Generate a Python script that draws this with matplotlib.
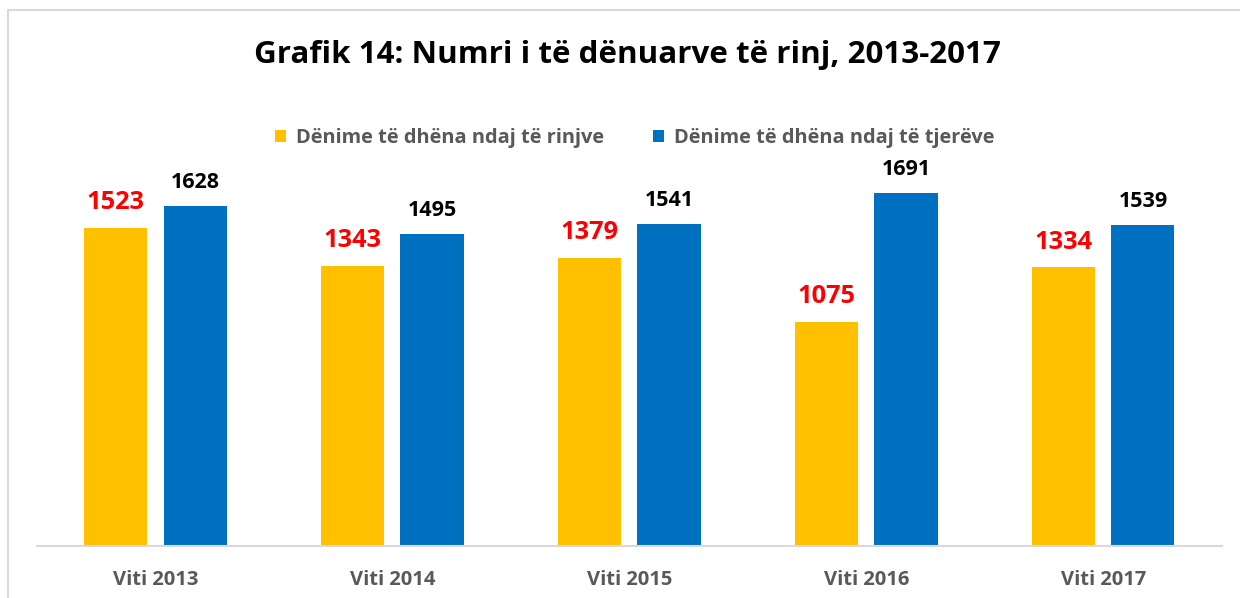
import matplotlib
matplotlib.use("Agg")
import matplotlib.pyplot as plt
import matplotlib.lines as mlines
import numpy as np

# data
years = ["Viti 2013", "Viti 2014", "Viti 2015", "Viti 2016", "Viti 2017"]
youth = [1523, 1343, 1379, 1075, 1334]
others = [1628, 1495, 1541, 1691, 1539]
series_names = ["Dënime të dhëna ndaj të rinjve", "Dënime të dhëna ndaj të tjerëve"]

ORANGE = "#FFC000"
BLUE = "#0070C0"
GREY_TXT = "#595959"

plt.rcParams["font.family"] = ["Open Sans", "DejaVu Sans"]

fig = plt.figure(figsize=(12.4, 5.98), dpi=100)
ax = fig.add_axes([0.0298, 0.08696, 0.9556, 0.6285])

x = np.arange(len(years))
w = 0.266
off = 0.167
ax.bar(x - off, youth, width=w, color=ORANGE, label=series_names[0])
ax.bar(x + off, others, width=w, color=BLUE, label=series_names[1])

for xi, v in zip(x, youth):
    ax.annotate(f"{v}", (xi - off, v), xytext=(0, 13.5), textcoords="offset points",
                ha="center", va="baseline", color="red", fontsize=18.3, fontweight="bold")
for xi, v in zip(x, others):
    ax.annotate(f"{v}", (xi + off, v), xytext=(0, 13), textcoords="offset points",
                ha="center", va="baseline", color="black", fontsize=15.5, fontweight="bold")

ax.set_xlim(-0.5, len(years) - 0.5)
ax.set_ylim(0, 1800)
ax.set_xticks(x)
ax.set_xticklabels(years, fontsize=14.5, fontweight="bold", color=GREY_TXT)
ax.tick_params(axis="x", length=0, pad=17)
ax.set_yticks([])
for s in ["top", "right", "left"]:
    ax.spines[s].set_visible(False)
ax.spines["bottom"].set_color("#D9D9D9")
ax.spines["bottom"].set_linewidth(1.5)

fig.text(0.506, 0.908, "Grafik 14: Numri i të dënuarve të rinj, 2013-2017",
         ha="center", va="center", fontsize=22.6, fontweight="bold", color="black")

leg = fig.legend(loc="center", bbox_to_anchor=(0.512, 0.769), ncol=2, frameon=False,
                 handlelength=0.55, handleheight=0.55, handletextpad=0.5, columnspacing=2.45,
                 prop={"size": 14.4, "weight": "bold"})
for t in leg.get_texts():
    t.set_color(GREY_TXT)

# outer chart border (top and left edges visible)
fig.add_artist(mlines.Line2D([8 / 1240, 1], [1 - 10 / 598, 1 - 10 / 598],
                             transform=fig.transFigure, color="#D9D9D9", lw=1.5))
fig.add_artist(mlines.Line2D([8 / 1240, 8 / 1240], [0, 1 - 10 / 598],
                             transform=fig.transFigure, color="#D9D9D9", lw=1.5))

fig.savefig("out.png", dpi=100)
